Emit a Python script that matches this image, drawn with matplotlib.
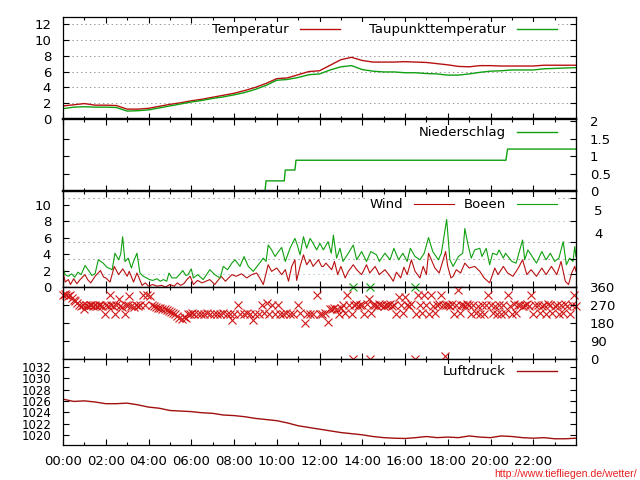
import matplotlib
matplotlib.use("Agg")
from matplotlib import pyplot as plt
import numpy as np

# ---- data (time in hours) ----
half_hours = np.arange(0, 24.5, 0.5)

temperatur = [1.65, 1.8, 1.95, 1.75, 1.75, 1.7, 1.25, 1.25, 1.35, 1.6, 1.85, 2.05,
              2.3, 2.5, 2.75, 3.0, 3.25, 3.6, 4.0, 4.5, 5.1, 5.2, 5.6, 6.0,
              6.1, 6.8, 7.5, 7.8, 7.4, 7.2, 7.2, 7.2, 7.25, 7.2, 7.15, 7.0,
              6.85, 6.65, 6.6, 6.75, 6.75, 6.7, 6.7, 6.7, 6.7, 6.8, 6.8, 6.8, 6.8]
taupunkt = [1.3, 1.5, 1.55, 1.5, 1.5, 1.45, 1.0, 1.05, 1.15, 1.4, 1.65, 1.9,
            2.15, 2.35, 2.6, 2.8, 3.05, 3.35, 3.75, 4.25, 4.9, 5.0, 5.25, 5.6,
            5.7, 6.2, 6.6, 6.75, 6.25, 6.05, 5.95, 5.95, 5.85, 5.85, 5.75, 5.7,
            5.55, 5.55, 5.7, 5.9, 6.05, 6.1, 6.2, 6.2, 6.2, 6.35, 6.4, 6.45, 6.5]
luftdruck = [1026.3, 1025.9, 1026.0, 1025.8, 1025.5, 1025.5, 1025.6, 1025.3, 1024.9, 1024.7, 1024.3, 1024.2,
             1024.1, 1023.9, 1023.8, 1023.5, 1023.4, 1023.2, 1022.9, 1022.7, 1022.5, 1022.1, 1021.6, 1021.3,
             1021.0, 1020.7, 1020.4, 1020.2, 1020.0, 1019.7, 1019.5, 1019.4, 1019.35, 1019.5, 1019.7, 1019.5,
             1019.6, 1019.5, 1019.8, 1019.6, 1019.5, 1019.8, 1019.7, 1019.5, 1019.4, 1019.5, 1019.3, 1019.3, 1019.4]

regen_t = [0, 9.45, 9.5, 10.35, 10.4, 10.85, 10.9, 20.72, 20.8, 24]
regen_v = [0, 0, 0.29, 0.29, 0.6, 0.6, 0.88, 0.88, 1.2, 1.2]

boeen_t = [0.0, 0.1, 0.25, 0.4, 0.55, 0.7, 0.85, 1.03, 1.2, 1.35, 1.5, 1.65, 1.88, 2.05, 2.3, 2.43,
           2.6, 2.7, 2.79, 2.9, 3.05, 3.2, 3.3, 3.46, 3.6, 3.76, 3.9, 4.05, 4.2, 4.4, 4.55, 4.7,
           4.85, 4.96, 5.1, 5.3, 5.45, 5.6, 5.75, 5.85, 6.0, 6.1, 6.3, 6.56, 6.87, 7.1, 7.35, 7.5,
           7.7, 7.9, 8.05, 8.28, 8.47, 8.67, 8.9, 9.14, 9.37, 9.5, 9.6, 9.76, 9.92, 10.08, 10.23, 10.4,
           10.62, 10.85, 10.96, 11.09, 11.25, 11.4, 11.56, 11.7, 11.87, 12.02, 12.18, 12.4, 12.55, 12.65, 12.8, 12.96,
           13.1, 13.35, 13.58, 13.74, 13.97, 14.2, 14.4, 14.67, 14.8, 15.06, 15.3, 15.48, 15.7, 15.9, 16.1, 16.25,
           16.47, 16.7, 16.9, 17.1, 17.3, 17.56, 17.7, 17.95, 18.1, 18.25, 18.5, 18.7, 18.8, 18.95, 19.1, 19.26,
           19.5, 19.6, 19.8, 19.96, 20.1, 20.3, 20.4, 20.6, 20.7, 21.0, 21.2, 21.5, 21.6, 21.75, 22.0, 22.15,
           22.4, 22.6, 22.8, 23.0, 23.2, 23.4, 23.55, 23.7, 23.86, 23.94, 24.0]
boeen_v = [2.3, 1.5, 1.3, 1.6, 1.2, 1.8, 1.5, 2.6, 2.0, 1.4, 1.6, 3.3, 2.9, 2.4, 2.1, 4.1,
           3.3, 4.0, 6.1, 3.1, 3.5, 2.3, 3.1, 4.1, 1.7, 1.3, 1.1, 0.9, 0.8, 1.0, 0.7, 0.9,
           0.7, 1.7, 1.1, 1.1, 1.5, 2.0, 1.4, 1.5, 2.2, 1.1, 1.5, 0.9, 2.1, 1.5, 1.1, 2.5,
           2.1, 2.9, 3.3, 2.5, 3.7, 2.5, 1.9, 2.7, 3.5, 3.1, 5.1, 4.5, 3.7, 4.3, 4.8, 3.1,
           4.7, 5.9, 5.1, 3.9, 6.1, 4.7, 5.9, 5.3, 4.5, 5.3, 4.5, 5.5, 4.1, 6.3, 3.5, 4.7,
           3.1, 4.1, 5.1, 3.3, 4.3, 3.1, 4.3, 3.9, 3.1, 4.1, 3.3, 4.7, 3.3, 4.1, 3.1, 4.7,
           3.7, 3.3, 4.1, 6.0, 4.3, 3.3, 4.1, 8.2, 3.3, 2.5, 3.7, 4.1, 7.1, 5.1, 3.5, 4.5,
           4.7, 3.7, 4.7, 2.7, 4.1, 3.9, 4.5, 3.5, 4.1, 3.1, 2.9, 5.7, 3.3, 4.5, 3.5, 2.9,
           4.3, 3.3, 4.1, 3.1, 3.5, 5.5, 2.7, 3.5, 3.1, 4.9, 3.7]

wind_t = [0.0, 0.1, 0.25, 0.35, 0.5, 0.65, 0.8, 1.03, 1.15, 1.3, 1.5, 1.75, 1.9, 2.0, 2.2, 2.4,
          2.6, 2.8, 3.0, 3.1, 3.3, 3.46, 3.7, 3.85, 4.0, 4.2, 4.4, 4.6, 4.8, 5.0, 5.2, 5.35,
          5.5, 5.65, 5.8, 5.95, 6.1, 6.3, 6.5, 6.87, 7.1, 7.4, 7.6, 7.9, 8.1, 8.35, 8.6, 8.83,
          9.06, 9.2, 9.37, 9.6, 9.76, 10.0, 10.23, 10.4, 10.55, 10.7, 10.85, 10.93, 11.09, 11.25, 11.4, 11.56,
          11.7, 11.95, 12.1, 12.18, 12.3, 12.57, 12.7, 12.85, 13.0, 13.2, 13.35, 13.58, 13.74, 13.97, 14.2, 14.35,
          14.6, 14.8, 15.06, 15.3, 15.45, 15.6, 15.8, 15.95, 16.1, 16.3, 16.47, 16.7, 16.85, 17.0, 17.1, 17.4,
          17.6, 17.9, 18.0, 18.15, 18.25, 18.4, 18.6, 18.8, 19.0, 19.26, 19.5, 19.7, 19.96, 20.2, 20.35, 20.6,
          20.8, 21.05, 21.3, 21.5, 21.7, 21.9, 22.15, 22.4, 22.6, 22.85, 23.1, 23.3, 23.5, 23.65, 23.8, 23.94, 24.0]
wind_v = [1.9, 0.6, 0.9, 0.3, 1.0, 0.4, 0.9, 1.5, 0.9, 0.5, 1.3, 2.0, 1.2, 1.1, 0.6, 2.5,
          1.5, 2.2, 1.3, 1.9, 0.6, 1.7, 0.2, 0.5, 0.1, 0.3, 0.1, 0.2, 0.0, 0.3, 0.1, 0.5,
          0.2, 0.4, 0.9, 1.3, 0.3, 0.8, 0.5, 0.9, 0.3, 1.3, 0.7, 1.5, 1.3, 1.6, 1.1, 1.5,
          1.7, 1.1, 0.3, 2.7, 1.9, 2.3, 1.5, 2.1, 0.7, 2.5, 3.3, 0.8, 2.5, 3.9, 2.7, 3.3,
          2.5, 3.3, 2.5, 2.5, 2.9, 2.1, 3.1, 1.5, 2.5, 1.1, 1.9, 2.7, 2.1, 1.5, 2.7, 1.7,
          2.5, 1.5, 2.1, 1.3, 0.7, 1.8, 1.1, 2.4, 1.5, 3.3, 1.9, 1.1, 2.5, 1.5, 4.1, 2.3,
          1.7, 4.3, 2.5, 1.1, 1.3, 2.1, 1.7, 2.9, 2.3, 2.5, 1.9, 1.1, 0.5, 2.3, 1.5, 2.5,
          1.7, 1.3, 2.3, 3.3, 1.5, 2.1, 1.3, 2.3, 1.5, 2.5, 1.5, 3.1, 0.7, 0.3, 1.7, 2.5, 1.9]

richtung_t = [0.0, 0.08, 0.16, 0.25, 0.33, 0.42, 0.5, 0.58, 0.67, 0.75, 0.83, 0.92,
              1.0, 1.08, 1.17, 1.25, 1.33, 1.42, 1.5, 1.58, 1.67, 1.75, 1.83, 1.97,
              2.0, 2.1, 2.2, 2.25, 2.33, 2.43, 2.5, 2.6, 2.67, 2.75, 2.9, 2.95,
              3.05, 3.1, 3.2, 3.3, 3.4, 3.5, 3.6, 3.75, 3.85, 3.95, 4.05, 4.15,
              4.25, 4.35, 4.45, 4.55, 4.65, 4.75, 4.85, 4.95, 5.05, 5.15, 5.25, 5.35,
              5.45, 5.55, 5.65, 5.75, 5.85, 5.95, 6.05, 6.15, 6.3, 6.45, 6.6, 6.75,
              6.9, 7.05, 7.2, 7.35, 7.5, 7.65, 7.8, 7.9, 8.0, 8.2, 8.3, 8.45,
              8.6, 8.75, 8.9, 9.0, 9.15, 9.3, 9.4, 9.55, 9.65, 9.8, 9.9, 10.05,
              10.15, 10.3, 10.45, 10.6, 10.75, 11.0, 11.1, 11.3, 11.4, 11.55, 11.7, 11.9,
              12.0, 12.1, 12.25, 12.4, 12.5, 12.6, 12.7, 12.8, 12.9, 13.0, 13.1, 13.2,
              13.3, 13.4, 13.5, 13.56, 13.6, 13.7, 13.8, 13.9, 14.0, 14.1, 14.2, 14.3,
              14.34, 14.4, 14.5, 14.6, 14.7, 14.8, 14.9, 15.0, 15.1, 15.2, 15.3, 15.4,
              15.5, 15.6, 15.7, 15.8, 15.9, 16.0, 16.1, 16.2, 16.3, 16.45, 16.5, 16.6,
              16.7, 16.8, 16.9, 17.0, 17.1, 17.2, 17.3, 17.4, 17.5, 17.6, 17.7, 17.8,
              17.86, 17.9, 18.0, 18.1, 18.2, 18.3, 18.4, 18.5, 18.55, 18.6, 18.7, 18.8,
              18.9, 19.0, 19.1, 19.2, 19.3, 19.4, 19.5, 19.6, 19.7, 19.8, 19.9, 20.0,
              20.1, 20.2, 20.3, 20.4, 20.5, 20.6, 20.7, 20.8, 20.9, 21.0, 21.1, 21.2,
              21.3, 21.4, 21.5, 21.6, 21.7, 21.8, 21.9, 22.0, 22.1, 22.2, 22.3, 22.4,
              22.5, 22.6, 22.7, 22.8, 22.9, 23.0, 23.1, 23.2, 23.3, 23.4, 23.5, 23.6,
              23.7, 23.8, 23.9, 24.0]
richtung_v = [320, 325, 320, 318, 322, 305, 295, 292, 280, 270, 268, 272,
              252, 270, 268, 272, 270, 268, 270, 265, 270, 272, 268, 225,
              270, 268, 320, 272, 265, 225, 270, 300, 268, 262, 225, 270,
              272, 318, 268, 262, 270, 268, 272, 320, 270, 320, 318, 270,
              268, 262, 258, 255, 252, 250, 245, 240, 235, 230, 228, 215,
              205, 200, 210, 205, 225, 228, 230, 227, 228, 225, 227, 230,
              227, 225, 228, 227, 230, 225, 228, 197, 227, 269, 228, 225,
              230, 227, 197, 228, 225, 269, 230, 280, 227, 269, 228, 270,
              227, 225, 230, 227, 228, 269, 230, 182, 227, 228, 225, 320,
              227, 228, 230, 185, 252, 250, 255, 252, 227, 255, 270, 230,
              320, 272, 227, 0, 270, 275, 268, 272, 270, 227, 275, 303,
              0, 230, 270, 272, 268, 275, 270, 268, 272, 270, 275, 268,
              270, 227, 314, 270, 230, 314, 272, 268, 275, 0, 227, 320,
              270, 230, 320, 272, 227, 320, 268, 230, 272, 275, 320, 270,
              16, 272, 270, 268, 275, 227, 270, 345, 230, 272, 270, 268,
              275, 270, 227, 272, 230, 268, 227, 270, 225, 272, 320, 270,
              230, 268, 227, 272, 225, 270, 230, 320, 268, 227, 275, 230,
              270, 272, 268, 270, 275, 268, 320, 227, 270, 272, 230, 268,
              270, 227, 275, 270, 230, 268, 272, 227, 270, 230, 275, 268,
              227, 270, 320, 268]
boeen_richtung_t = [13.56, 14.34, 16.45]
boeen_richtung_v = [360, 360, 360]

bft_grenzen = [1.6, 3.4, 5.5, 8.0, 10.8]
bft_farben = ["#a0b8c8", "#808080", "#808080", "#a0b8c8", "#808080"]
bft_mitten = [6.6, 9.3]
bft_namen = ["4", "5"]

x_labels = ["00:00", "02:00", "04:00", "06:00", "08:00", "10:00",
            "12:00", "14:00", "16:00", "18:00", "20:00", "22:00"]

ROT = "#b81010"
GRUEN = "#10a010"
FS = 9.5

plt.rcParams["font.family"] = "DejaVu Sans"
plt.rcParams["font.size"] = FS

fig = plt.figure(figsize=(6.4, 4.8), dpi=100)

# panel boxes in pixels: top, bottom
L, R = 63, 576
panels_px = [(17, 119), (119, 191), (191, 287), (287, 359), (359, 445)]
axes = []
for top, bot in panels_px:
    ax = fig.add_axes([L / 640, 1 - bot / 480, (R - L) / 640, (bot - top) / 480])
    axes.append(ax)
ax_t, ax_n, ax_w, ax_r, ax_p = axes


def style(ax):
    ax.set_xlim(0, 24)
    ax.set_xticks(range(0, 24, 2))
    ax.set_xticks(range(0, 25), minor=True)
    ax.tick_params(axis="both", which="both", direction="in", top=True, right=True,
                   labelsize=FS, width=0.8, pad=8.5)
    ax.tick_params(axis="both", which="major", length=4)
    ax.tick_params(axis="both", which="minor", length=2.5)
    ax.tick_params(axis="x", labelbottom=False)
    for s in ax.spines.values():
        s.set_linewidth(0.9)


def key(ax, top_px, h_px, ncol=1, colsp=2.2):
    ax.legend(loc="upper right", bbox_to_anchor=(1 - 18 / (R - L), 1 - top_px / h_px),
              ncol=ncol, markerfirst=False, frameon=True, facecolor="white",
              edgecolor="none", framealpha=1, borderpad=0.1, borderaxespad=0,
              handlelength=3.0, handletextpad=0.85, columnspacing=colsp, fontsize=FS)


for ax in axes:
    style(ax)

# Temperatur
ax_t.plot(half_hours, temperatur, color=ROT, lw=1, label="Temperatur")
ax_t.plot(half_hours, taupunkt, color=GRUEN, lw=1, label="Taupunkttemperatur")
ax_t.set_ylim(0, 12.9)
ax_t.set_yticks(range(0, 13, 2))
ax_t.yaxis.set_minor_locator(plt.NullLocator())
for v in range(2, 13, 2):
    ax_t.axhline(v, color="#999999", lw=0.7, ls=(0, (1.5, 3)), zorder=0)
key(ax_t, 5, 102, ncol=2, colsp=2.2)
ax_t.spines["bottom"].set_linewidth(1.6)

# Niederschlag
ax_n.plot(regen_t, regen_v, color=GRUEN, lw=1, label="Niederschlag", zorder=1)
ax_n.set_ylim(0, 2.06)
ax_n.set_yticks([0.5, 1, 1.5])
ax_n.set_yticklabels([])
ax_n.yaxis.set_minor_locator(plt.NullLocator())
ax_n.tick_params(axis="y", right=False)
n2 = ax_n.twinx()
n2.set_ylim(0, 2.06)
n2.set_yticks([0, 0.5, 1, 1.5, 2])
n2.set_yticklabels(["0", "0.5", "1", "1.5", "2"])
n2.tick_params(axis="y", direction="in", length=4, width=0.8, labelsize=FS, pad=10)
key(ax_n, 6, 72)
for s in ("top", "bottom"):
    ax_n.spines[s].set_linewidth(1.6)

# Wind / Boeen
for v, c in zip(bft_grenzen, bft_farben):
    ax_w.axhline(v, color=c, lw=0.8, ls=(0, (1, 3.5)), zorder=0)
ax_w.plot(wind_t, wind_v, color=ROT, lw=0.8, label="Wind")
ax_w.plot(boeen_t, boeen_v, color=GRUEN, lw=0.8, label="Boeen")
ax_w.set_ylim(0, 11.65)
ax_w.set_yticks(range(0, 11, 2))
ax_w.yaxis.set_minor_locator(plt.NullLocator())
ax_w.tick_params(axis="y", right=False)
w2 = ax_w.twinx()
w2.set_ylim(0, 11.65)
w2.set_yticks(bft_grenzen)
w2.set_yticklabels([])
w2.set_yticks(bft_mitten, minor=True)
w2.set_yticklabels(bft_namen, minor=True)
w2.tick_params(axis="y", which="major", direction="in", length=4, width=0.8)
w2.tick_params(axis="y", which="minor", length=0, labelsize=FS, pad=13)
key(ax_w, 6, 96, ncol=2, colsp=0.75)
ax_w.spines["top"].set_linewidth(1.6)

# Windrichtung
ax_r.plot(richtung_t, richtung_v, ls="none", marker="x", ms=6, mew=0.8,
          color="#d01818", clip_on=False, zorder=3)
ax_r.plot(boeen_richtung_t, boeen_richtung_v, ls="none", marker="x", ms=6, mew=0.8,
          color=GRUEN, clip_on=False, zorder=3)
ax_r.set_ylim(0, 362)
ax_r.set_yticks([90, 180, 270])
ax_r.set_yticklabels([])
ax_r.yaxis.set_minor_locator(plt.NullLocator())
ax_r.tick_params(axis="y", right=False)
r2 = ax_r.twinx()
r2.set_ylim(0, 362)
r2.set_yticks([0, 90, 180, 270, 360])
r2.tick_params(axis="y", direction="in", length=4, width=0.8, labelsize=FS, pad=10)

# Luftdruck
ax_p.plot(half_hours, luftdruck, color="#a01010", lw=1, label="Luftdruck")
ax_p.set_ylim(1018.2, 1033.4)
ax_p.set_yticks(range(1020, 1033, 2))
ax_p.yaxis.set_minor_locator(plt.NullLocator())
ax_p.tick_params(axis="y", labelsize=8.5)
key(ax_p, 5, 86)
ax_p.tick_params(axis="x", labelbottom=True, pad=7.5)
ax_p.set_xticklabels(x_labels)

fig.text(0.995, 0.002, "http://www.tiefliegen.de/wetter/", color="#e82020",
         fontsize=7.6, family="Liberation Sans", ha="right", va="bottom")

fig.savefig("out.png", dpi=100)
